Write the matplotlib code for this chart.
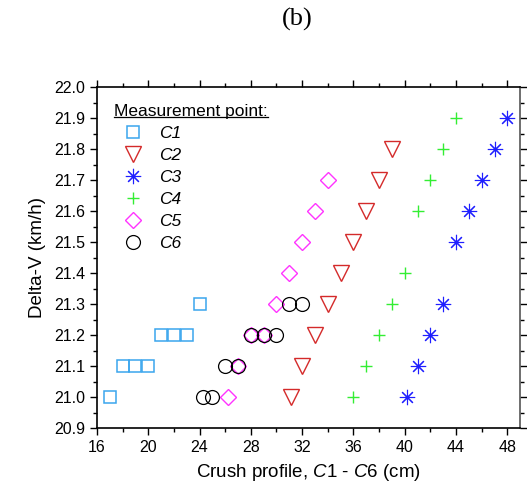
import matplotlib
matplotlib.use("Agg")
import matplotlib.pyplot as plt
from matplotlib.ticker import MultipleLocator, FormatStrFormatter
from matplotlib.lines import Line2D

plt.rcParams["font.family"] = ["Liberation Sans", "DejaVu Sans"]
plt.rcParams["mathtext.fontset"] = "custom"
plt.rcParams["mathtext.rm"] = "Liberation Sans"
plt.rcParams["mathtext.it"] = "Liberation Sans:italic"

# Delta-V (km/h) vs crush (cm) for each measurement point
C1_X = [17, 18, 19, 20, 21, 22, 23, 24]
C1_Y = [21.0, 21.1, 21.1, 21.1, 21.2, 21.2, 21.2, 21.3]

C2_X = [31.1, 32, 33, 34, 35, 36, 37, 38, 39]
C2_Y = [21.0, 21.1, 21.2, 21.3, 21.4, 21.5, 21.6, 21.7, 21.8]

C3_X = [40.2, 41, 42, 43, 44, 45, 46, 47, 48]
C3_Y = [21.0, 21.1, 21.2, 21.3, 21.5, 21.6, 21.7, 21.8, 21.9]

C4_X = [36, 37, 38, 39, 40, 41, 42, 43, 44]
C4_Y = [21.0, 21.1, 21.2, 21.3, 21.4, 21.6, 21.7, 21.8, 21.9]

C5_X = [26.2, 27, 28, 29, 30, 31, 32, 33, 34]
C5_Y = [21.0, 21.1, 21.2, 21.2, 21.3, 21.4, 21.5, 21.6, 21.7]

C6_X = [24.3, 25, 26, 27, 28, 29, 30, 31, 32]
C6_Y = [21.0, 21.0, 21.1, 21.1, 21.2, 21.2, 21.2, 21.3, 21.3]

LABELS = ["C1", "C2", "C3", "C4", "C5", "C6"]

fig = plt.figure(figsize=(5.27, 4.95), dpi=100)
ax = fig.add_axes([0.184, 0.135, 0.803, 0.689])

ax.plot(C1_X, C1_Y, ls="none", marker="s", ms=8, mfc="none", mec="#3aa6ee", mew=1.1, label=LABELS[0])
ax.plot(C2_X, C2_Y, ls="none", marker="v", ms=11.5, mfc="none", mec="#d42a2a", mew=1.0, label=LABELS[1])
ax.plot(C3_X, C3_Y, ls="none", marker=(8, 2, 0), ms=11, mfc="none", mec="#1f1fff", mew=0.8, label=LABELS[2])
ax.plot(C4_X, C4_Y, ls="none", marker="+", ms=9, mfc="none", mec="#33ee33", mew=1.0, label=LABELS[3])
ax.plot(C5_X, C5_Y, ls="none", marker="D", ms=8, mfc="none", mec="#ff33ff", mew=1.0, label=LABELS[4])
ax.plot(C6_X, C6_Y, ls="none", marker="o", ms=10, mfc="none", mec="black", mew=0.9, label=LABELS[5])

ax.set_xlim(16, 49)
ax.set_ylim(20.9, 22.0)
ax.xaxis.set_major_locator(MultipleLocator(4))
ax.xaxis.set_minor_locator(MultipleLocator(2))
ax.yaxis.set_major_locator(MultipleLocator(0.1))
ax.yaxis.set_minor_locator(MultipleLocator(0.05))
ax.yaxis.set_major_formatter(FormatStrFormatter("%.1f"))

ax.tick_params(which="both", direction="out", top=True, right=True, labelsize=11.5, width=1)
ax.tick_params(which="major", length=5)
ax.tick_params(which="minor", length=3)
for s in ax.spines.values():
    s.set_linewidth(1.2)
ax.spines["right"].set_color("#555555")

ax.set_xlabel(r"Crush profile, $\it{C1}$ - $\it{C6}$ (cm)", fontsize=13.5, labelpad=5)
ax.set_ylabel("Delta-V (km/h)", fontsize=13.5, labelpad=6)

leg = ax.legend(loc="upper left", bbox_to_anchor=(0.040, 0.950), frameon=False,
                prop={"style": "italic", "size": 12.5},
                title="Measurement point:", title_fontsize=12.5,
                borderpad=0, borderaxespad=0, handlelength=2.22, handletextpad=0.37,
                labelspacing=0.39)
leg._legend_box.align = "left"

fig.text(0.5636, 0.9616, "(b)", fontsize=19, family="Liberation Serif", ha="center", va="center")

# underline the legend title
fig.canvas.draw()
bb = leg.get_title().get_window_extent()
uy = bb.y0 + 2.1
inv = fig.transFigure.inverted()
(x0, y0), (x1, _) = inv.transform([(bb.x0, uy), (bb.x1, uy)])
fig.add_artist(Line2D([x0, x1], [y0, y0], color="black", lw=0.9, transform=fig.transFigure))

fig.savefig("out.png", dpi=100)
